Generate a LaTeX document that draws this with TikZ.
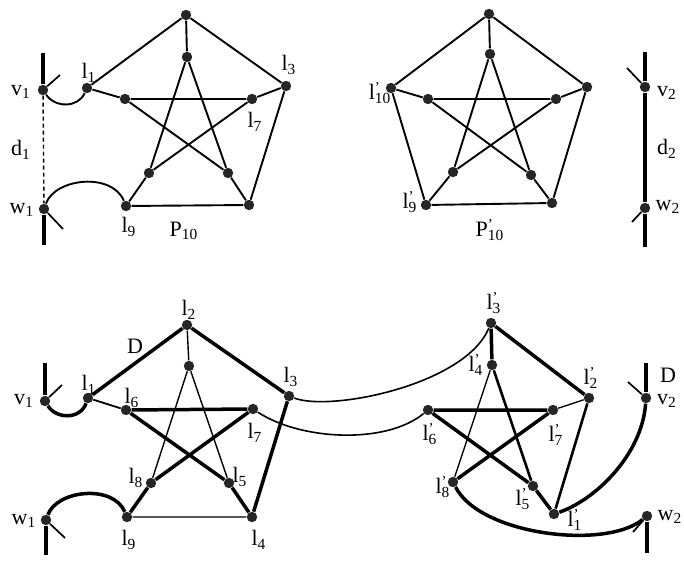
\documentclass[tikz,border=0pt]{standalone}
\usepackage{fontspec}
\setmainfont{Liberation Serif}
\newcommand\lpr[1]{l\rlap{\raisebox{0.32em}{\fontsize{7.5}{7.5}\selectfont\textquoteright}}\textsubscript{#1}}
\newcommand\lnm[1]{l\textsubscript{#1}}
\begin{document}
\begin{tikzpicture}[x=0.5pt,y=-0.5pt,
  dot/.style={circle,fill=black!85,inner sep=0pt,minimum size=5.2pt},
  lab/.style={inner sep=0pt,font=\fontsize{11}{13}\selectfont},
  med/.style={line width=0.95pt},
  thk/.style={line width=1.75pt},
  thn/.style={line width=0.7pt},
  tk/.style={line width=0.85pt}]
\useasboundingbox (0,0) rectangle (684,561);
% ---------- top left: P10 ----------
\node[dot] (a1) at (186,15) {};
\node[dot] (a2) at (187,57) {};
\node[dot] (a3) at (87,88) {};
\node[dot] (a4) at (286,86) {};
\node[dot] (a5) at (125,99) {};
\node[dot] (a6) at (252,99) {};
\node[dot] (a7) at (149,173) {};
\node[dot] (a8) at (228,173) {};
\node[dot] (a9) at (126,206) {};
\node[dot] (a10) at (249,205) {};
\node[dot] (tv1) at (43,90) {};
\node[dot] (tw1) at (44,209) {};
\coordinate (tv1t) at (43,53);
\coordinate (tv1k) at (60,75);
\coordinate (tw1b) at (44,245);
\coordinate (tw1k) at (63,229);
\draw[med] (a1)--(a3) (a1)--(a4) (a1)--(a2) (a4)--(a10) (a10)--(a9)
  (a3)--(a5) (a4)--(a6) (a9)--(a7) (a10)--(a8)
  (a5)--(a6) (a5)--(a8) (a6)--(a7) (a2)--(a7) (a2)--(a8);
\draw[thk] (tv1t)--(tv1) (tw1)--(tw1b);
\draw[tk] (tv1)--(tv1k) (tw1)--(tw1k);
\draw[thn,dash pattern=on 2pt off 1.5pt] (tv1)--(tw1);
\draw[med] (tv1) .. controls (55,108) and (78,108) .. (a3);
\draw[med] (tw1) .. controls (55,178) and (112,172) .. (a9);
\node[lab] (ltv1) at (21,92) {v\textsubscript{1}};
\node[lab] (ltd1) at (21,150) {d\textsubscript{1}};
\node[lab] (ltw1) at (22,210) {w\textsubscript{1}};
\node[lab] (lta3) at (89,73) {\lnm{1}};
\node[lab] (lta4) at (289,65) {\lnm{3}};
\node[lab] (lta6) at (255,122) {\lnm{7}};
\node[lab] (lta9) at (129,227) {\lnm{9}};
\node[lab] (ltp) at (184,231) {P\textsubscript{10}};
% ---------- top right: P'10 ----------
\node[dot] (b1) at (489,14) {};
\node[dot] (b2) at (490,54) {};
\node[dot] (b3) at (391,88) {};
\node[dot] (b4) at (587,87) {};
\node[dot] (b5) at (428,99) {};
\node[dot] (b6) at (556,99) {};
\node[dot] (b7) at (453,172) {};
\node[dot] (b8) at (531,175) {};
\node[dot] (b9) at (426,205) {};
\node[dot] (b10) at (552,203) {};
\draw[med] (b1)--(b3) (b1)--(b4) (b1)--(b2) (b3)--(b9) (b9)--(b10) (b10)--(b4)
  (b3)--(b5) (b4)--(b6) (b9)--(b7) (b10)--(b8)
  (b5)--(b6) (b5)--(b8) (b6)--(b7) (b2)--(b7) (b2)--(b8);
\node[dot] (tv2) at (645,87) {};
\node[dot] (tw2) at (645,208) {};
\coordinate (tv2t) at (645,52);
\coordinate (tw2b) at (645,247);
\coordinate (tv2k) at (627,68);
\coordinate (tw2k) at (632,222);
\draw[thk] (tv2t)--(tv2) (tv2)--(tw2) (tw2)--(tw2b);
\draw[tk] (tv2k)--(tv2) (tw2k)--(tw2);
\node[lab] (lb3) at (380,93) {\lpr{10}};
\node[lab] (lb9) at (410,202) {\lpr{9}};
\node[lab] (lbp) at (490,230) {P\rlap{\raisebox{0.32em}{\fontsize{7.5}{7.5}\selectfont\textquoteright}}\textsubscript{10}};
\node[lab] (ltv2) at (667,93) {v\textsubscript{2}};
\node[lab] (ltd2) at (667,149) {d\textsubscript{2}};
\node[lab] (ltw2) at (668,207) {w\textsubscript{2}};
% ---------- bottom left ----------
\node[dot] (c2) at (187,325) {};
\node[dot] (ci) at (189,366) {};
\node[dot] (c1) at (88,398) {};
\node[dot] (c3) at (289,396) {};
\node[dot] (c6) at (126,410) {};
\node[dot] (c7) at (253,409) {};
\node[dot] (c8) at (151,483) {};
\node[dot] (c5) at (229,483) {};
\node[dot] (c9) at (127,517) {};
\node[dot] (c4) at (252,517) {};
\node[dot] (bv1) at (45,401) {};
\node[dot] (bw1) at (46,520) {};
\coordinate (bv1t) at (45,363);
\coordinate (bv1k) at (62,385);
\coordinate (bw1b) at (46,555);
\coordinate (bw1k) at (65,538);
\draw[thk] (c1)--(c2) (c2)--(c3) (c3)--(c4) (c6)--(c7) (c6)--(c5) (c5)--(c4)
  (c7)--(c8) (c8)--(c9);
\draw[thn] (c2)--(ci) (ci)--(c8) (ci)--(c5) (c9)--(c4);
\draw[line width=0.9pt] (c1)--(c6);
\draw[thk] (bv1t)--(bv1) (bw1)--(bw1b);
\draw[tk] (bv1)--(bv1k) (bw1)--(bw1k);
\draw[thk] (bv1) .. controls (56,419) and (80,420) .. (c1);
\draw[thk] (bw1) .. controls (57,490) and (113,484) .. (c9);
\node[lab] (lc2) at (189,310) {\lnm{2}};
\node[lab] (lcd) at (135,346) {D};
\node[lab] (lc1) at (89,385) {\lnm{1}};
\node[lab] (lc6) at (132,398) {\lnm{6}};
\node[lab] (lc3) at (291,377) {\lnm{3}};
\node[lab] (lc7) at (255,433) {\lnm{7}};
\node[lab] (lc8) at (136,478) {\lnm{8}};
\node[lab] (lc5) at (240,477) {\lnm{5}};
\node[lab] (lc9) at (129,540) {\lnm{9}};
\node[lab] (lc4) at (259,540) {\lnm{4}};
\node[lab] (lbv1) at (24,401) {v\textsubscript{1}};
\node[lab] (lbw1) at (24,521) {w\textsubscript{1}};
% ---------- bottom right ----------
\node[dot] (d3) at (491,323) {};
\node[dot] (d4) at (492,365) {};
\node[dot] (d2) at (589,398) {};
\node[dot] (d6) at (428,410) {};
\node[dot] (d7) at (553,410) {};
\node[dot] (d8) at (453,482) {};
\node[dot] (d5) at (533,486) {};
\node[dot] (d1) at (554,514) {};
\node[dot] (bv2) at (646,398) {};
\node[dot] (bw2) at (647,516) {};
\coordinate (bv2t) at (646,363);
\coordinate (bv2k) at (628,382);
\coordinate (bw2b) at (647,553);
\coordinate (bw2k) at (633,532);
\draw[thk] (d3)--(d4) (d3)--(d2) (d6)--(d7) (d6)--(d5) (d5)--(d1) (d7)--(d8);
\draw[line width=1.3pt] (d2)--(d1) (d4)--(d5);
\draw[thn] (d2)--(d7) (d4)--(d8);
\draw[thk] (bv2t)--(bv2) (bw2)--(bw2b);
\draw[tk] (bv2k)--(bv2) (bw2k)--(bw2);
\draw[thk] (d1) .. controls (595,500) and (642,455) .. (bv2);
\draw[thk] (d8) .. controls (480,535) and (605,550) .. (bw2);
% connecting curves
\draw[line width=0.8pt] (c3) .. controls (330,412) and (465,385) .. (d3);
\draw[line width=0.8pt] (c7) .. controls (300,440) and (385,445) .. (d6);
\node[lab] (ld3) at (494,303) {\lpr{3}};
\node[lab] (ld4) at (476,365) {\lpr{4}};
\node[lab] (ld2) at (591,378) {\lpr{2}};
\node[lab] (ldd) at (668,375) {D};
\node[lab] (lbv2) at (667,401) {v\textsubscript{2}};
\node[lab] (ld6) at (430,434) {\lpr{6}};
\node[lab] (ld7) at (556,435) {\lpr{7}};
\node[lab] (ld8) at (443,487) {\lpr{8}};
\node[lab] (ld5) at (523,499) {\lpr{5}};
\node[lab] (ld1) at (575,520) {\lpr{1}};
\node[lab] (lbw2) at (670,517) {w\textsubscript{2}};
\end{tikzpicture}
\end{document}
